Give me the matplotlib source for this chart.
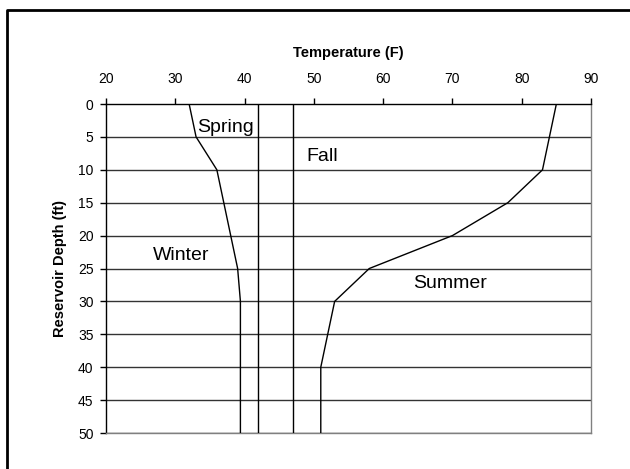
"""Reservoir temperature profiles by season."""
import matplotlib
matplotlib.use('Agg')
import matplotlib.pyplot as plt
from matplotlib.lines import Line2D

plt.rcParams['font.family'] = ['Liberation Sans', 'DejaVu Sans']

depth = [0, 5, 10, 15, 20, 25, 30, 35, 40, 45, 50]
winter = [32, 33, 36, 37, 38, 39, 39.4, 39.4, 39.4, 39.4, 39.4]
spring = [42] * len(depth)
fall = [47] * len(depth)
summer = [85, 84, 83, 78, 70, 58, 53, 52, 51, 51, 51]

season_labels = [('Spring', 33.1, 4.2), ('Fall', 48.9, 8.7),
                 ('Winter', 26.8, 23.7), ('Summer', 64.3, 28.0)]

fig = plt.figure(figsize=(6.3, 4.69), dpi=100)
ax = fig.add_axes([106 / 630, 1 - 433 / 469, 485 / 630, 329 / 469])

# outer frame: only the left and top edges fall inside the picture
fx, fy = 7 / 630, 1 - 10 / 469
fig.add_artist(Line2D([fx, fx, 1.05], [-0.05, fy, fy],
                      transform=fig.transFigure, color='black', lw=2))

for yv in range(5, 51, 5):
    ax.axhline(yv, color='#333333', lw=1, zorder=1)

for series in [winter, spring, fall, summer]:
    ax.plot(series, depth, color='black', lw=1, zorder=3)

for name, xv, yv in season_labels:
    ax.text(xv, yv, name, fontsize=14, ha='left', va='baseline')

ax.set_xlim(20, 90)
ax.set_ylim(50, 0)
ax.set_xticks(range(20, 91, 10))
ax.set_yticks(range(0, 51, 5))
ax.xaxis.tick_top()
ax.xaxis.set_label_position('top')
ax.tick_params(axis='x', direction='out', length=4, width=1, pad=9, labelsize=10)
ax.tick_params(axis='y', direction='out', length=4, width=1, pad=5, labelsize=10)
ax.set_xlabel('Temperature (F)', fontsize=10.5, fontweight='bold', labelpad=11)
ax.set_ylabel('Reservoir Depth (ft)', fontsize=10.5, fontweight='bold', labelpad=8)

ax.spines['top'].set_color('black')
ax.spines['left'].set_color('black')
ax.spines['right'].set_color('#808080')
ax.spines['bottom'].set_color('#808080')
for s in ax.spines.values():
    s.set_linewidth(1)

fig.savefig('out.png', dpi=100)
